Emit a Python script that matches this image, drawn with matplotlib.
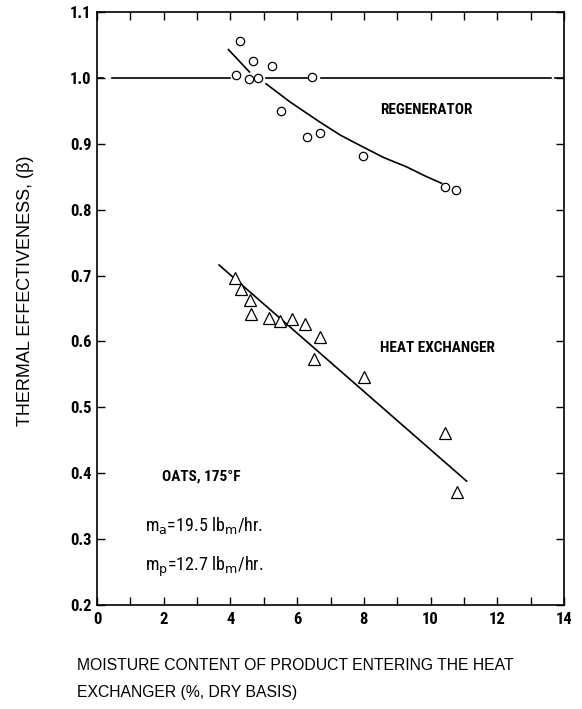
import matplotlib
matplotlib.use("Agg")
import matplotlib.pyplot as plt
from matplotlib import font_manager
from matplotlib.ticker import MultipleLocator

nan = float("nan")

# ---- data ----
regen_x = [4.29, 4.17, 4.55, 4.69, 4.82, 5.24, 6.44, 5.52, 6.29, 6.69, 7.96, 10.43, 10.76]
regen_y = [1.056, 1.004, 0.999, 1.025, 1.000, 1.018, 1.002, 0.950, 0.910, 0.917, 0.881, 0.834, 0.830]

hx_x = [4.15, 4.32, 4.59, 4.62, 5.17, 5.49, 5.84, 6.23, 6.69, 6.50, 7.99, 10.43, 10.78]
hx_y = [0.696, 0.679, 0.663, 0.642, 0.635, 0.631, 0.634, 0.626, 0.607, 0.573, 0.546, 0.461, 0.372]

# hand-drawn trend curves (NaN marks a break in the pen stroke)
regen_fit_x = [3.94, 4.57, nan, 5.07, 5.80, 6.68, 7.30, 7.98, 8.60, 9.28, 9.80, 10.33]
regen_fit_y = [1.043, 1.009, nan, 0.991, 0.963, 0.933, 0.913, 0.895, 0.879, 0.865, 0.852, 0.840]
hx_fit_x = [3.66, 11.08]
hx_fit_y = [0.716, 0.388]

# effectiveness = 1 reference line, broken around the plotted points
unity_x = [0.0, 0.18, nan, 0.45, 3.99, nan, 5.07, 6.29, nan, 6.73, 13.60, nan, 13.73, 14.0]
unity_y = [1.0, 1.0, nan, 1.0, 1.0, nan, 1.0, 1.0, nan, 1.0, 1.0, nan, 1.0, 1.0]

x_ticks = [0, 2, 4, 6, 8, 10, 12, 14]
y_ticks = [0.2, 0.3, 0.4, 0.5, 0.6, 0.7, 0.8, 0.9, 1.0, 1.1]

# ---- fonts ----
available = {f.name for f in font_manager.fontManager.ttflist}
narrow = None
for cand in ["Liberation Sans Narrow", "DejaVu Sans Condensed", "Roboto Condensed", "Open Sans Condensed"]:
    if cand in available:
        narrow = cand
        break
if narrow is None:
    narrow = "DejaVu Sans"
plain = "Liberation Sans" if "Liberation Sans" in available else "DejaVu Sans"

fig = plt.figure(figsize=(5.82, 7.09), dpi=100)
ax = fig.add_axes([97 / 582, 1 - 605 / 709, (564 - 97) / 582, (605 - 12) / 709])

lw = 1.2
ax.plot(unity_x, unity_y, color="black", lw=lw, zorder=2)
ax.plot(regen_fit_x, regen_fit_y, color="black", lw=lw, zorder=2)
ax.plot(hx_fit_x, hx_fit_y, color="black", lw=lw, zorder=2)

ax.plot(regen_x, regen_y, linestyle="none", marker="o", ms=6, mfc="white",
        mec="black", mew=0.9, zorder=3)
ax.plot(hx_x, hx_y, linestyle="none", marker="^", ms=8, mfc="white",
        mec="black", mew=0.9, zorder=3)

ax.set_xlim(0, 14)
ax.set_ylim(0.2, 1.1)
ax.set_xticks(x_ticks)
ax.set_xticklabels([str(t) for t in x_ticks])
ax.xaxis.set_minor_locator(MultipleLocator(1))
ax.set_yticks(y_ticks)
ax.set_yticklabels([f"{t:.1f}" for t in y_ticks])

ax.tick_params(axis="both", which="both", direction="in", top=True, right=True,
               width=1.0, length=6)
ax.tick_params(axis="x", which="major", labeltop=False, pad=5)
ax.tick_params(axis="y", which="major", pad=4)
for lab in ax.get_xticklabels() + ax.get_yticklabels():
    lab.set_fontfamily(narrow)
    lab.set_fontweight("bold")
    lab.set_fontsize(12)
for sp in ax.spines.values():
    sp.set_linewidth(1.2)

ann = dict(family=narrow, fontweight="bold", fontsize=11, color="black")
ax.text(8.5, 0.951, "REGENERATOR", ha="left", va="center", **ann)
ax.text(8.48, 0.590, "HEAT EXCHANGER", ha="left", va="center", **ann)
ax.text(1.94, 0.395, "OATS, 175\u00b0F", ha="left", va="center", **ann)
ax.text(1.44, 0.321, r"m$_\mathrm{a}$=19.5 lb$_\mathrm{m}$/hr.", ha="left", va="center",
        family=narrow, fontsize=13)
ax.text(1.44, 0.258, r"m$_\mathrm{p}$=12.7 lb$_\mathrm{m}$/hr.", ha="left", va="center",
        family=narrow, fontsize=13)

fig.text(26 / 582, 1 - 291 / 709, "THERMAL EFFECTIVENESS, (\u03b2)", rotation=90,
         ha="center", va="center", family=plain, fontsize=13)
fig.text(77 / 582, 1 - 665 / 709, "MOISTURE CONTENT OF PRODUCT ENTERING THE HEAT",
         ha="left", va="center", family=plain, fontsize=11.3)
fig.text(77 / 582, 1 - 693 / 709, "EXCHANGER (%, DRY BASIS)",
         ha="left", va="center", family=plain, fontsize=11.3)

fig.savefig("out.png", dpi=100)
